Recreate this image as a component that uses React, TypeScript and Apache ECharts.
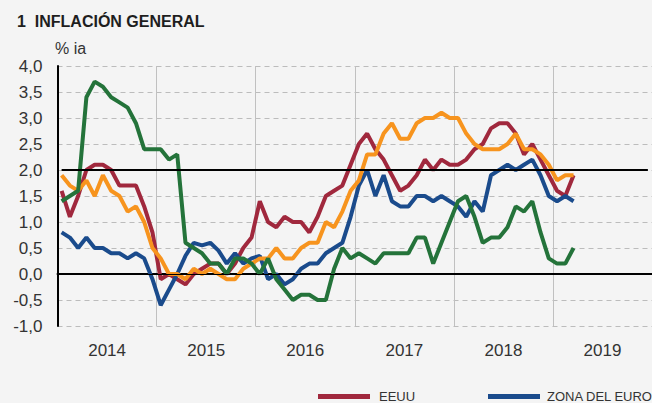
import React, { useEffect, useRef } from "react";
import * as echarts from "echarts";

const years = ["2014", "2015", "2016", "2017", "2018", "2019"];
const months = years.flatMap((y) =>
  ["01", "02", "03", "04", "05", "06", "07", "08", "09", "10", "11", "12"].map((m) => `${y}-${m}`)
);

// Jan 2014 – Mar 2019, % ia
const eeuu = [
  1.6, 1.1, 1.5, 2.0, 2.1, 2.1, 2.0, 1.7, 1.7, 1.7, 1.3, 0.8,
  -0.1, 0.0, -0.1, -0.2, 0.0, 0.1, 0.2, 0.2, 0.0, 0.2, 0.5, 0.7,
  1.4, 1.0, 0.9, 1.1, 1.0, 1.0, 0.8, 1.1, 1.5, 1.6, 1.7, 2.1,
  2.5, 2.7, 2.4, 2.2, 1.9, 1.6, 1.7, 1.9, 2.2, 2.0, 2.2, 2.1,
  2.1, 2.2, 2.4, 2.5, 2.8, 2.9, 2.9, 2.7, 2.3, 2.5, 2.2, 1.9,
  1.6, 1.5, 1.9,
];
const zonaEuro = [
  0.8, 0.7, 0.5, 0.7, 0.5, 0.5, 0.4, 0.4, 0.3, 0.4, 0.3, -0.1,
  -0.6, -0.3, 0.0, 0.35, 0.6, 0.55, 0.6, 0.45, 0.2, 0.4, 0.2, 0.3,
  0.35, -0.1, 0.0, -0.2, -0.1, 0.1, 0.2, 0.2, 0.4, 0.5, 0.6, 1.1,
  1.7, 2.0, 1.5, 1.9, 1.4, 1.3, 1.3, 1.5, 1.5, 1.4, 1.5, 1.4,
  1.3, 1.1, 1.4, 1.2, 1.9, 2.0, 2.1, 2.0, 2.1, 2.2, 1.9, 1.5,
  1.4, 1.5, 1.4,
];
const reinoUnido = [
  1.9, 1.7, 1.6, 1.8, 1.5, 1.9, 1.6, 1.5, 1.2, 1.3, 1.0, 0.5,
  0.3, 0.0, 0.0, -0.1, 0.1, 0.0, 0.1, 0.0, -0.1, -0.1, 0.1, 0.2,
  0.3, 0.3, 0.5, 0.3, 0.3, 0.5, 0.6, 0.6, 1.0, 0.9, 1.2, 1.6,
  1.8, 2.3, 2.3, 2.7, 2.9, 2.6, 2.6, 2.9, 3.0, 3.0, 3.1, 3.0,
  3.0, 2.7, 2.5, 2.4, 2.4, 2.4, 2.5, 2.7, 2.4, 2.4, 2.3, 2.1,
  1.8, 1.9, 1.9,
];
const japon = [
  1.4, 1.5, 1.6, 3.4, 3.7, 3.6, 3.4, 3.3, 3.2, 2.9, 2.4, 2.4,
  2.4, 2.2, 2.3, 0.6, 0.5, 0.4, 0.2, 0.2, 0.0, 0.3, 0.3, 0.2,
  0.0, 0.3, -0.1, -0.3, -0.5, -0.4, -0.4, -0.5, -0.5, 0.1, 0.5, 0.3,
  0.4, 0.3, 0.2, 0.4, 0.4, 0.4, 0.4, 0.7, 0.7, 0.2, 0.6, 1.0,
  1.4, 1.5, 1.1, 0.6, 0.7, 0.7, 0.9, 1.3, 1.2, 1.4, 0.8, 0.3,
  0.2, 0.2, 0.5,
];

const FONT = "'Liberation Sans', Arial, Helvetica, sans-serif";
const NARROW = "'Liberation Sans Narrow', 'Arial Narrow', 'Liberation Sans', sans-serif";

export default function App() {
  const ref = useRef<HTMLDivElement>(null);
  useEffect(() => {
    if (!ref.current) return;
    const chart = echarts.init(ref.current, undefined, { renderer: "svg" });
    const line = (name: string, data: number[], color: string) => ({
      name,
      type: "line",
      data,
      symbol: "none",
      lineStyle: { color, width: 4 },
      itemStyle: { color },
    });
    const legendText = { fontFamily: NARROW, fontSize: 13, color: "#333" };
    chart.setOption({
      animation: false,
      backgroundColor: "#f4f4f4",
      title: {
        text: "1\u00a0\u00a0INFLACIÓN GENERAL",
        left: 17,
        top: 13,
        padding: 0,
        textStyle: { fontFamily: FONT, fontSize: 16, fontWeight: "bold", color: "#1e1e1e", lineHeight: 16 },
      },
      graphic: [
        {
          type: "text",
          left: 55,
          top: 40,
          style: { text: "% ia", font: `16px ${FONT}`, fill: "#333" },
        },
      ],
      legend: [
        {
          left: 318,
          top: 390,
          padding: 0,
          data: ["EEUU"],
          icon: "rect",
          itemWidth: 52,
          itemHeight: 5,
          textStyle: { ...legendText, padding: [0, 0, 0, 4] },
        },
        {
          left: 488,
          top: 390,
          padding: 0,
          data: ["ZONA DEL EURO"],
          icon: "rect",
          itemWidth: 52,
          itemHeight: 5,
          textStyle: { ...legendText, padding: [0, 0, 0, 2] },
        },
      ],
      grid: { left: 57.5, right: -6.7, top: 66, bottom: 77, containLabel: false },
      xAxis: {
        type: "category",
        data: months,
        boundaryGap: true,
        axisLine: { show: true, lineStyle: { color: "#000", width: 2 } },
        axisTick: { show: false },
        splitLine: {
          show: true,
          interval: (i: number) => i % 12 === 0 && i > 0,
          lineStyle: { color: "#c0c0c0", width: 1, type: "solid" },
        },
        axisLabel: {
          interval: (i: number) => i % 12 === 5,
          formatter: (v: string) => v.slice(0, 4),
          margin: 16,
          padding: [0, 0, 0, 8.35],
          fontFamily: FONT,
          fontSize: 17,
          color: "#333",
        },
      },
      yAxis: {
        type: "value",
        min: -1,
        max: 4,
        interval: 0.5,
        axisLine: { show: true, lineStyle: { color: "#000", width: 2 } },
        axisTick: { show: false },
        splitLine: { show: true, lineStyle: { color: "#bcbcbc", width: 1, type: [5, 4] } },
        axisLabel: {
          margin: 15,
          fontFamily: FONT,
          fontSize: 17,
          color: "#333",
          formatter: (v: number) => v.toFixed(1).replace(".", ","),
        },
      },
      series: [
        {
          ...line("EEUU", eeuu, "#a0283d"),
          markLine: {
            silent: true,
            symbol: "none",
            label: { show: false },
            z: 10,
            data: [
              [
                { coord: [0, 2], lineStyle: { color: "#000", width: 2, type: "solid" } },
                { coord: [71, 2] },
              ],
              [
                { coord: [0, 0], lineStyle: { color: "#000", width: 1, type: "solid" } },
                { coord: [71, 0] },
              ],
            ],
          },
        },
        line("ZONA DEL EURO", zonaEuro, "#1a4b8c"),
        line("REINO UNIDO", reinoUnido, "#f7941e"),
        line("JAPÓN", japon, "#24733a"),
      ],
    });
    return () => chart.dispose();
  }, []);
  return <div ref={ref} style={{ position: "fixed", left: 0, top: 0, width: 652, height: 403 }} />;
}
